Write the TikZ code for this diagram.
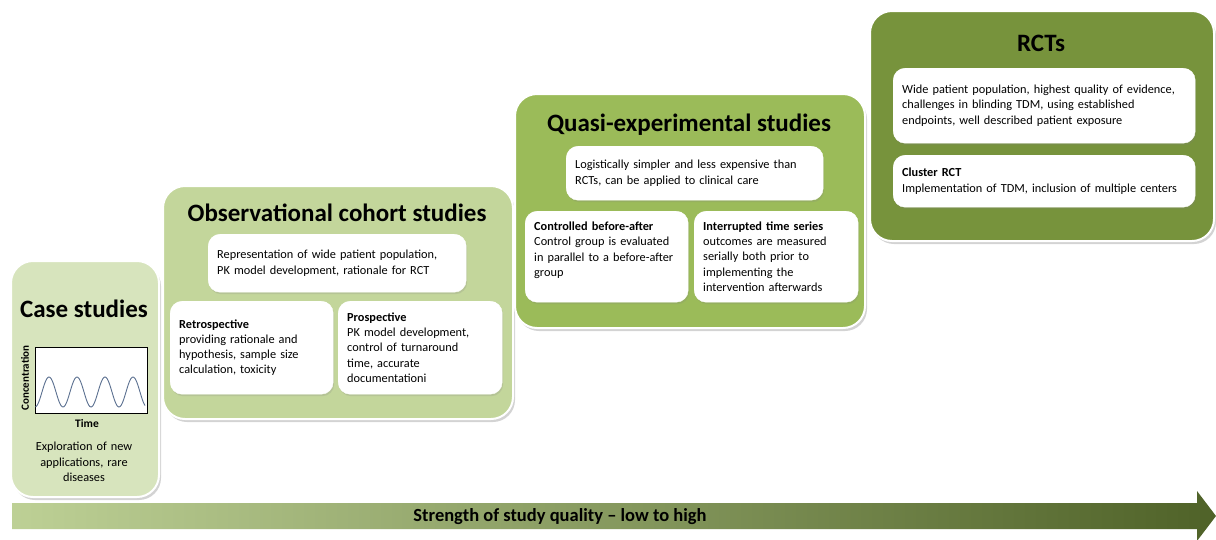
\documentclass[tikz,border=0pt]{standalone}
\usepackage{fontspec}
\setmainfont{Carlito}
\usetikzlibrary{positioning,shadows}
\definecolor{caseGreen}{HTML}{D7E4BD}
\definecolor{obsGreen}{HTML}{C3D69B}
\definecolor{quasiGreen}{HTML}{9BBB59}
\definecolor{rctGreen}{HTML}{77933C}
\definecolor{darkGreen}{HTML}{4F6228}
\definecolor{waveBlue}{HTML}{5B7090}

\begin{document}
\begin{tikzpicture}[
    x=1pt, y=-1pt,
    font=\fontsize{12.3}{15.3}\selectfont,
    study/.style={
		rectangle,
		rounded corners=22pt,
		draw=white,
		line width=2pt,
		anchor=north west,
		drop shadow={opacity=0.35, shadow xshift=2pt, shadow yshift=-3pt}
	},
    inbox/.style={
		rectangle,
		rounded corners=12pt,
		draw=white,
		fill=white,
		anchor=north west,
		align=left,
		inner xsep=9pt,
		inner ysep=0pt,
		drop shadow={opacity=0.2, shadow xshift=1pt, shadow yshift=-2pt}
	},
    title/.style={
		font=\fontsize{25}{30}\selectfont\bfseries,
		anchor=base
	}
  ]
  \useasboundingbox (0,0) rectangle (1216,539);

  % the four study blocks, from low to high
  \node [study, fill=caseGreen, minimum width=148pt, minimum height=236pt] (case) at (10,260) {};
  \node [study, fill=obsGreen, minimum width=350pt, minimum height=233pt] (obs) at (162,185) {};
  \node [study, fill=quasiGreen, minimum width=350pt, minimum height=234pt] (quasi) at (514,93) {};
  \node [study, fill=rctGreen, minimum width=344pt, minimum height=230pt] (rct) at (869,10) {};

  % titles
  \node [title] (caseTitle) at (84,317) {Case studies};
  \node [title] (obsTitle) at (337,221) {Observational cohort studies};
  \node [title] (quasiTitle) at (689,131) {Quasi-experimental studies};
  \node [title] (rctTitle) at (1041,51) {RCTs};

  % case studies: small concentration-time plot
  \draw [line width=0.8pt, fill=white] (35,347) rectangle (147,413);
  \draw [waveBlue, line width=0.9pt] plot [domain=35.5:145, samples=120, smooth]
    (\x, {392+15*cos(12.857143*(\x-35))});
  \node [font=\fontsize{11}{12}\selectfont\bfseries, rotate=90] (concLabel) at (25,378) {Concentration};
  \node [font=\fontsize{11.5}{12}\selectfont\bfseries] (timeLabel) at (87,423) {Time};
  \node [align=center, text width=140pt] (caseText) at (84,462)
 {Exploration of new\\applications, rare\\diseases};

  % observational cohort studies
  \node [inbox, minimum width=258pt, minimum height=58pt, text width=240pt] (obsMain) at (208,234)
 {Representation of wide patient population,\\PK model development, rationale for RCT};
  \node [inbox, minimum width=163pt, minimum height=93pt, text width=145pt] (retro) at (170,301)
 {\textbf{Retrospective}\\providing rationale and\\hypothesis, sample size\\calculation, toxicity};
  \node [inbox, minimum width=164pt, minimum height=93pt, text width=146pt] (prosp) at (338,301)
 {\textbf{Prospective}\\PK model development,\\control of turnaround\\time, accurate\\documentationi};

  % quasi-experimental studies
  \node [inbox, minimum width=257pt, minimum height=54pt, text width=239pt] (quasiMain) at (566,146)
 {Logistically simpler and less expensive than\\RCTs, can be applied to clinical care};
  \node [inbox, minimum width=163pt, minimum height=91pt, text width=145pt] (cba) at (525,211)
 {\textbf{Controlled before-after}\\Control group is evaluated\\in parallel to a before-after\\group\\~};
  \node [inbox, minimum width=164pt, minimum height=91pt, text width=146pt] (its) at (694,211)
 {\textbf{Interrupted time series}\\outcomes are measured\\serially both prior to\\implementing the\\intervention afterwards};

  % RCTs
  \node [inbox, minimum width=302pt, minimum height=75pt, text width=284pt] (rctMain) at (893,68)
 {Wide patient population, highest quality of evidence,\\challenges in blinding TDM, using established\\endpoints, well described patient exposure};
  \node [inbox, minimum width=302pt, minimum height=52pt, text width=284pt] (cluster) at (893,155)
 {\textbf{Cluster RCT}\\Implementation of TDM, inclusion of multiple centers};

  % arrow at the bottom
  \shade [left color=obsGreen!95!darkGreen, right color=darkGreen]
    (12,503) -- (1197,503) -- (1197,491) -- (1216,516) -- (1197,541) -- (1197,529) -- (12,529) -- cycle;
  \node [font=\fontsize{18.5}{20}\selectfont\bfseries] (strength) at (560,517) {Strength of study quality -- low to high};

\end{tikzpicture}
\end{document}
